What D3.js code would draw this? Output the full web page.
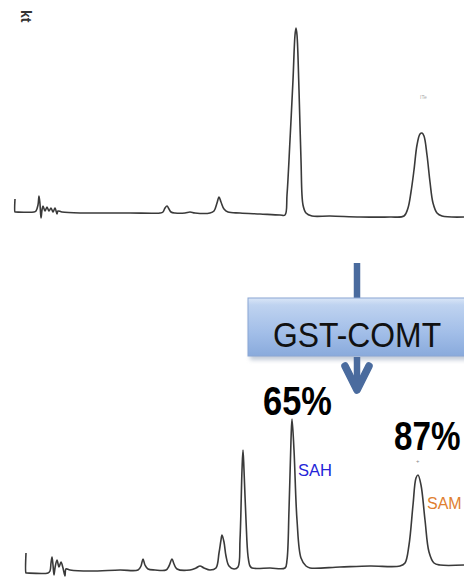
<!DOCTYPE html>
<html><head><meta charset="utf-8">
<script src="https://cdn.jsdelivr.net/npm/d3@7/dist/d3.min.js"></script>
<style>html,body{margin:0;padding:0;background:#fff;}svg{display:block;}</style>
</head><body>
<svg id="c" width="464" height="578"></svg>
<script>
// Chromatogram before enzyme (retention time min, signal a.u.)
const beforeTime = [0,0,0.02,0.76,0.84,0.92,0.96,1.00,1.04,1.08,1.12,1.20,1.28,1.36,1.44,1.52,1.60,1.68,1.72,1.88,2.60,3.40,4.60,5.80,5.92,6.00,6.08,6.16,6.24,6.40,6.80,7.00,7.20,7.80,7.96,8.08,8.16,8.24,8.36,8.52,9.00,9.80,10.60,10.80,10.88,11.00,11.12,11.20,11.24,11.28,11.36,11.44,11.52,11.64,11.88,12.60,13.80,15.00,15.56,15.72,15.84,15.96,16.08,16.20,16.28,16.36,16.48,16.60,16.72,16.88,17.08,17.96];
const beforeSignal = [7,0.5,0.5,0.5,1,4,8.5,4.5,-2.5,1.5,3.5,1,3,1,2.5,0.5,2.5,-0.5,1,0.5,0,0,0,0,0.5,2.5,3.5,2,0.5,0,0,0.5,0,0,1,5,8,5.5,2,0.5,0,-0.5,-1,-1,9,36.5,66.5,89,92.5,89,61.5,26.5,4,0,-1.5,-1.5,-2,-2,-1.5,2.5,10.5,21.5,34,39.5,40,38.5,29,15.5,5,0,-1.5,-2];
// Chromatogram after GST-COMT reaction
const afterTime = [0,0,0.02,0.88,0.96,1.00,1.04,1.08,1.12,1.16,1.24,1.32,1.40,1.48,1.56,1.60,1.76,2.56,3.76,4.48,4.60,4.68,4.76,4.88,5.16,5.60,5.72,5.84,5.92,6.04,6.56,6.80,6.96,7.12,7.36,7.60,7.72,7.80,7.84,7.92,8.00,8.12,8.32,8.48,8.56,8.64,8.68,8.72,8.80,8.88,8.96,9.04,9.76,10.36,10.44,10.52,10.60,10.64,10.72,10.84,11.00,11.20,11.36,12.56,13.76,14.96,15.16,15.32,15.48,15.60,15.68,15.80,15.96,16.12,16.32,16.56,17.52];
const afterSignal = [8.5,-1.5,-1.5,-1.5,-0.5,3.5,6.5,2.5,-2.5,1,5,1.5,4,1,-3,0.5,0,-0.5,0,0,2,5.5,2.5,0.5,0,0,2,5.5,3,0.5,0,1,2,1,0,1,8.5,15,17.5,14,7,2,0.5,1.5,15,50,60,50,25,7,2,1,1,1,5,30,65,75.5,60,25,6,2,1,1.5,2,2,3.5,12.5,32.5,46,47.5,42.5,25,9,3.5,2.5,2.5];
const enzymeLabel = "GST-COMT";
const pctLabels = ["65%", "87%"];
const peakNames = ["SAH", "SAM"];

const svg = d3.select("#c");
const defs = svg.append("defs");
const grad = defs.append("linearGradient").attr("id","bx").attr("x1",0).attr("y1",0).attr("x2",0).attr("y2",1);
grad.append("stop").attr("offset","0%").attr("stop-color","#dae6f7");
grad.append("stop").attr("offset","12%").attr("stop-color","#bfd3f0");
grad.append("stop").attr("offset","60%").attr("stop-color","#a2bee8");
grad.append("stop").attr("offset","100%").attr("stop-color","#89aadc");
const blur = defs.append("filter").attr("id","sh").attr("x","-10%").attr("y","-10%").attr("width","130%").attr("height","140%");
blur.append("feGaussianBlur").attr("stdDeviation",2);

// scales
const xTop = d3.scaleLinear().domain([0,17.96]).range([15,464]);
const yTop = d3.scaleLinear().domain([0,92.5]).range([213,28]);
const xBot = d3.scaleLinear().domain([0,17.52]).range([26,464]);
const yBot = d3.scaleLinear().domain([0,75.5]).range([570,419]);

function trace(ts, ss, xs, ys) {
  const pts = ts.map((t,i)=>[t, ss[i]]);
  const line = d3.line().x(d=>xs(d[0])).y(d=>ys(d[1])).curve(d3.curveCatmullRom.alpha(0.5));
  svg.append("path").attr("d", line(pts)).attr("fill","none")
    .attr("stroke","#3a3a3a").attr("stroke-width",1.6).attr("stroke-linejoin","round");
}
trace(beforeTime, beforeSignal, xTop, yTop);
trace(afterTime, afterSignal, xBot, yBot);

// small scribbles
svg.append("text").attr("transform","translate(21,10) rotate(90)").attr("font-family","Liberation Sans, Arial")
  .attr("font-size",14).attr("font-weight","bold").attr("fill","#333").text("kt");
svg.append("text").attr("x",xTop(16.2)).attr("y",yTop(57)).attr("font-family","Liberation Sans, Arial")
  .attr("font-size",5).attr("fill","#aaa").text("ITe");

// arrow above box
const ac = "#4a6b9e";
svg.append("line").attr("x1",357).attr("x2",357).attr("y1",263).attr("y2",300).attr("stroke",ac).attr("stroke-width",6.5);
// box
svg.append("rect").attr("x",250).attr("y",301).attr("width",230).attr("height",59).attr("fill","#9aa8bd").attr("opacity",0.6).attr("filter","url(#sh)");
svg.append("rect").attr("x",248).attr("y",298).attr("width",230).attr("height",58).attr("fill","url(#bx)").attr("stroke","#8aa6d4").attr("stroke-width",1);
svg.append("text").attr("transform","translate(273,347) scale(0.885,1)").attr("font-family","Liberation Sans, Arial, sans-serif")
  .attr("font-size",36).attr("fill","#111").text(enzymeLabel);
// arrow below box
svg.append("line").attr("x1",357).attr("x2",357).attr("y1",357).attr("y2",389).attr("stroke",ac).attr("stroke-width",6.5);
svg.append("path").attr("d","M345,366 L357,390 L369,366").attr("fill","none").attr("stroke",ac).attr("stroke-width",7.5).attr("stroke-linecap","round").attr("stroke-linejoin","round");

// percentages
svg.append("text").attr("transform","translate(263,415) scale(0.84,1)").attr("font-family","Liberation Sans, Arial, sans-serif").attr("font-weight","bold")
  .attr("font-size",41).attr("fill","#000").text(pctLabels[0]);
svg.append("text").attr("transform","translate(394,450) scale(0.81,1)").attr("font-family","Liberation Sans, Arial, sans-serif").attr("font-weight","bold")
  .attr("font-size",41).attr("fill","#000").text(pctLabels[1]);
svg.append("text").attr("x",416).attr("y",463).attr("font-family","Liberation Sans, Arial").attr("font-size",6).attr("fill","#888").text("+");

// peak names
svg.append("text").attr("x",298).attr("y",476).attr("font-family","Liberation Sans, Arial, sans-serif")
  .attr("font-size",16.5).attr("fill","#2424d8").text(peakNames[0]);
svg.append("text").attr("x",427).attr("y",509).attr("font-family","Liberation Sans, Arial, sans-serif")
  .attr("font-size",16).attr("fill","#e08030").text(peakNames[1]);
</script>
</body></html>
